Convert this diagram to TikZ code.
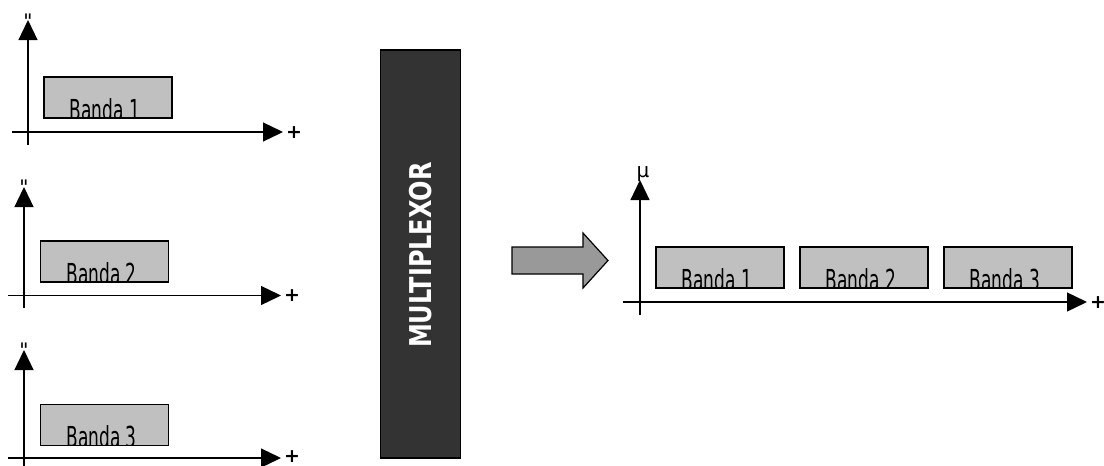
\documentclass[tikz,border=0pt]{standalone}
\usepackage{fontspec}
\usepackage{graphicx}
\setmainfont{DejaVu Sans}
\newfontfamily\plainfont{DejaVu Sans}[Ligatures=TeXOff]
\usetikzlibrary{arrows.meta}
\definecolor{bandgray}{HTML}{C0C0C0}
\definecolor{muxgray}{HTML}{333333}
\definecolor{flowgray}{HTML}{999999}
\tikzset{
  axis/.style={line width=1.3pt, -{Triangle[length=20pt,width=19pt]}},
  band/.style={draw=black, line width=1.2pt, fill=bandgray, inner sep=0pt,
    minimum width=128pt, minimum height=41pt,
    path picture={\node[anchor=base, inner sep=0pt, font=\fontsize{17}{20}\selectfont]
      at ([xshift=-3pt,yshift=-2pt]path picture bounding box.south) {\scalebox{1}[1.7]{#1}};}},
  ylab/.style={inner sep=0pt, font=\plainfont\fontsize{20}{22}\selectfont},
  xlab/.style={inner sep=0pt, font=\fontsize{19}{20}\selectfont\bfseries},
}
\begin{document}
\begin{tikzpicture}[x=1pt,y=-1pt]
\useasboundingbox (0,0) rectangle (1104,466);

% first input channel
\coordinate (v1s) at (28,145); \coordinate (v1e) at (28,20);
\coordinate (h1s) at (12,132); \coordinate (h1e) at (283,132);
\draw[axis] (v1s) -- (v1e);
\draw[axis] (h1s) -- (h1e);
\node[ylab] (y1) at (28,21) {"};
\node[xlab] (x1) at (294,133) {+};
\node[band={Banda 1}] (b1) at (108,97.5) {};

% second input channel
\coordinate (v2s) at (24,308); \coordinate (v2e) at (24,187);
\coordinate (h2s) at (8,295.5); \coordinate (h2e) at (281,295.5);
\draw[axis] (v2s) -- (v2e);
\draw[axis] (h2s) -- (h2e);
\node[ylab] (y2) at (24,187) {"};
\node[xlab] (x2) at (292,296) {+};
\node[band={Banda 2}] (b2) at (104.5,261.5) {};

% third input channel
\coordinate (v3s) at (24,466); \coordinate (v3e) at (24,350);
\coordinate (h3s) at (8,458); \coordinate (h3e) at (281,458);
\draw[axis] (v3s) -- (v3e);
\draw[axis] (h3s) -- (h3e);
\node[ylab] (y3) at (24,350) {"};
\node[xlab] (x3) at (292,456.5) {+};
\node[band={Banda 3}] (b3) at (104.5,425) {};

% multiplexer block
\node[draw=black, line width=1.2pt, fill=muxgray, minimum width=80pt, minimum height=408pt, inner sep=0pt] (mux) at (420.5,254) {};
\node[rotate=90, text=white, inner sep=0pt, font=\fontsize{24}{26}\selectfont\bfseries] (muxlabel) at (420.5,255) {\scalebox{1}[1.25]{MULTIPLEXOR}};

% block arrow towards the output
\draw[draw=black, line width=1.2pt, fill=flowgray]
  (512,247) -- (583,247) -- (583,233) -- (608,260.5) -- (583,288) -- (583,274) -- (512,274) -- cycle;

% multiplexed output
\coordinate (vos) at (640,315); \coordinate (voe) at (640,180);
\coordinate (hos) at (623,302); \coordinate (hoe) at (1087,302);
\draw[axis] (vos) -- (voe);
\draw[axis] (hos) -- (hoe);
\node[ylab] (yo) at (643,174) {µ};
\node[xlab] (xo) at (1098,303) {+};
\node[band={Banda 1}] (o1) at (720,267.5) {};
\node[band={Banda 2}] (o2) at (864,267.5) {};
\node[band={Banda 3}] (o3) at (1008,267.5) {};
\end{tikzpicture}
\end{document}
